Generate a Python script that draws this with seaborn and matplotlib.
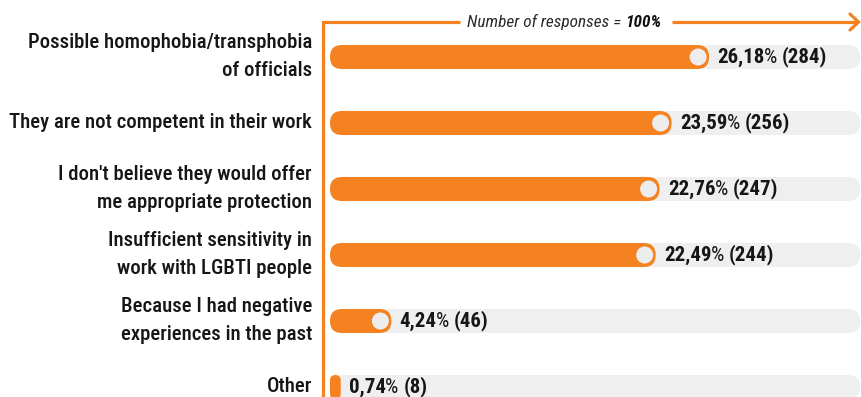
import os
import matplotlib
matplotlib.use("Agg")
import matplotlib.pyplot as plt
import seaborn as sns
import pandas as pd
from matplotlib import font_manager as fm
from matplotlib.font_manager import FontProperties
from matplotlib.patches import FancyBboxPatch, Ellipse

# ---- data -------------------------------------------------------------
reasons = [
    "Possible homophobia/transphobia\nof officials",
    "They are not competent in their work",
    "I don't believe they would offer\nme appropriate protection",
    "Insufficient sensitivity in\nwork with LGBTI people",
    "Because I had negative\nexperiences in the past",
    "Other",
]
percent = [26.18, 23.59, 22.76, 22.49, 4.24, 0.74]
counts = [284, 256, 247, 244, 46, 8]
title_main = "Number of responses = "
title_total = "100%"

# ---- style ------------------------------------------------------------
ORANGE = "#F58220"
TRACK = "#EFEFEF"
DOT = "#EDEDED"
INK = "#161616"
XMAX = 36.6

sns.set_theme(style="white")
plt.rcParams["font.family"] = ["Roboto", "DejaVu Sans"]

# narrow typefaces, most preferred first
PREFERRED = ["robotocondensed", "barlowsemicondensed", "liberationsansnarrow",
             "notosanssemicondensed", "notosanscondensed",
             "opensanssemicondensed", "opensanscondensed",
             "dejavusanscondensed", "robotoflex"]


def _key(f):
    return (f.name + os.path.basename(f.fname)).lower().replace(" ", "").replace("-", "").replace("_", "")


def _weight(f):
    w = f.weight
    if isinstance(w, str):
        w = fm.weight_dict.get(w, 400)
    return int(w)


GROUP = []
for token in PREFERRED:
    GROUP = [f for f in fm.fontManager.ttflist
             if token in _key(f) and f.fname.lower().endswith((".ttf", ".otf"))]
    if GROUP:
        break


def font(weight=400, italic=False):
    if GROUP:
        pool = [f for f in GROUP if (f.style != "normal") == italic] or GROUP
        best = min(pool, key=lambda f: abs(_weight(f) - weight))
        return FontProperties(fname=best.fname)
    return FontProperties(family=["Roboto", "DejaVu Sans"], weight=weight,
                          style="italic" if italic else "normal")


W, H = 861, 397
fig = plt.figure(figsize=(W / 100, H / 100), dpi=100)
fig.patch.set_facecolor("white")
renderer = fig.canvas.get_renderer()


def width_px(parts):
    total = 0
    for s, fp in parts:
        t = fig.text(0, 0, s, fontproperties=fp)
        total += t.get_window_extent(renderer).width
        t.remove()
    return total


def fit(parts, target):
    for _, fp in parts:
        fp.set_size(20)
    size = 20 * target / width_px(parts)
    for _, fp in parts:
        fp.set_size(size)
    return size


f_label = font(500)
fit([("They are not competent in their work", f_label)], 304)
f_num = font(600)
f_pct = font(400)
fit([("26,18", f_num), ("%", f_pct), (" (284)", f_num)], 111)
f_title = font(400, italic=True)
f_total = font(700, italic=True)
fit([(title_main, f_title), (title_total, f_total)], 194)

# two-line names sit 24 px apart, baseline to baseline
_, lp_h, lp_d = renderer.get_text_width_height_descent("lp", f_label, ismath=False)
label_spacing = 24 / (lp_h - lp_d)

ax = fig.add_axes([330 / W, (H - 420) / H, 530 / W, 396 / H])
df = pd.DataFrame({"reason": reasons, "percent": percent})
sns.barplot(data=df, x="percent", y="reason", orient="h", color=ORANGE,
            saturation=1, width=0.364, ax=ax)
ax.set_xlim(0, XMAX)
ax.set_ylim(len(reasons) - 0.5, -0.5)
ax.set_xlabel("")
ax.set_ylabel("")
ax.set_xticks([])
ax.set_yticks([])
for s in ax.spines.values():
    s.set_visible(False)
ax.set_facecolor("none")

# pixel size of one data unit along each axis
p0 = ax.transData.transform((0, 0))
px_x = ax.transData.transform((1, 0))[0] - p0[0]
px_y = abs(ax.transData.transform((0, 1))[1] - p0[1])


def pill(x, y, w, h, color, z):
    """Rounded bar with fully circular ends, drawn in data units."""
    r_px = min(w * px_x, h * px_y) / 2
    patch = FancyBboxPatch((x, y), w, h,
                           boxstyle=f"round,pad=0,rounding_size={r_px / px_x}",
                           mutation_aspect=px_x / px_y,
                           facecolor=color, edgecolor="none", zorder=z)
    ax.add_patch(patch)


bars = list(ax.patches)
for bar in bars:
    x, y, w, h = bar.get_x(), bar.get_y(), bar.get_width(), bar.get_height()
    bar.remove()
    pill(0, y, XMAX, h, TRACK, 1)
    pill(x, y, w, h, ORANGE, 2)
    if w * px_x > 30:
        ax.add_patch(Ellipse((x + w - 11 / px_x, y + h / 2), 17 / px_x, 17 / px_y,
                             facecolor=DOT, edgecolor="none", zorder=3))

# category names to the left of each track
for i, name in enumerate(reasons):
    ax.annotate(name, xy=(0, i), xytext=(-13, 0), textcoords="offset points",
                ha="right", va="center", multialignment="right",
                fontproperties=f_label, color=INK, linespacing=label_spacing,
                annotation_clip=False)

# value labels: number, percent sign, count
for i, (p, n) in enumerate(zip(percent, counts)):
    num = f"{p:.2f}".replace(".", ",")
    t1 = ax.annotate(num, xy=(p, i), xytext=(6, 0), textcoords="offset points",
                     ha="left", va="center", fontproperties=f_num,
                     color=INK, zorder=4, annotation_clip=False)
    t2 = ax.annotate("%", xy=(1, 0), xycoords=t1, xytext=(-0.6, 0),
                     textcoords="offset points", ha="left", va="bottom",
                     fontproperties=f_pct, color=INK, zorder=4)
    ax.annotate(f"({n})", xy=(1, 0), xycoords=t2, xytext=(3.5, 0),
                textcoords="offset points", ha="left", va="bottom",
                fontproperties=f_num, color=INK, zorder=4)

# ---- frame arrow and heading -------------------------------------------
oax = fig.add_axes([0, 0, 1, 1], zorder=5)
oax.set_xlim(0, W)
oax.set_ylim(H, 0)
oax.axis("off")
oax.patch.set_alpha(0)
lw = 2.3
oax.plot([323, 323, 460], [H + 5, 22, 22], color=ORANGE, lw=lw,
         solid_joinstyle="miter", solid_capstyle="butt")
oax.plot([672, 858], [22, 22], color=ORANGE, lw=lw, solid_capstyle="butt")
oax.plot([850, 858.5, 850], [14, 22, 30], color=ORANGE, lw=lw,
         solid_joinstyle="miter")
ta = oax.text(467, 22, title_main, ha="left", va="center",
              fontproperties=f_title, color="#2a2a2a")
oax.annotate(title_total, xy=(1, 0), xycoords=ta, xytext=(0, 0),
             textcoords="offset points", ha="left", va="bottom",
             fontproperties=f_total, color="#111111")

fig.savefig("out.png", dpi=100, facecolor="white")
